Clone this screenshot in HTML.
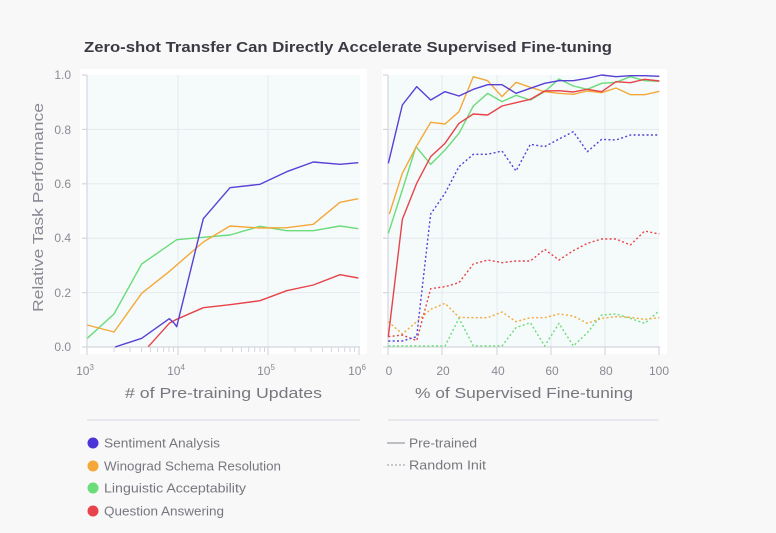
<!DOCTYPE html>
<html><head><meta charset="utf-8"><style>
html,body{margin:0;padding:0;background:#f8f8f8;}
svg{display:block;font-family:"Liberation Sans",sans-serif;}
</style></head><body>
<svg width="776" height="533" viewBox="0 0 776 533" xmlns="http://www.w3.org/2000/svg">
<rect width="776" height="533" fill="#f8f8f8"/>
<text x="84" y="52" font-size="14.5" font-weight="bold" fill="#3a3a44" textLength="528" lengthAdjust="spacingAndGlyphs">Zero-shot Transfer Can Directly Accelerate Supervised Fine-tuning</text>
<rect x="80" y="69" width="287" height="285" fill="#ffffff"/>
<rect x="382" y="69" width="285" height="285" fill="#ffffff"/>
<rect x="87" y="75" width="273" height="272" fill="#f4fbfa"/>
<rect x="388" y="75" width="271" height="272" fill="#f4fbfa"/>
<g stroke="#e6eaee" stroke-width="1">
<line x1="87" y1="129.4" x2="360" y2="129.4"/><line x1="87" y1="183.8" x2="360" y2="183.8"/><line x1="87" y1="238.2" x2="360" y2="238.2"/><line x1="87" y1="292.6" x2="360" y2="292.6"/>
<line x1="178" y1="75" x2="178" y2="347"/><line x1="268" y1="75" x2="268" y2="347"/>
<line x1="388" y1="129.4" x2="659" y2="129.4"/><line x1="388" y1="183.8" x2="659" y2="183.8"/><line x1="388" y1="238.2" x2="659" y2="238.2"/><line x1="388" y1="292.6" x2="659" y2="292.6"/>
<line x1="442" y1="75" x2="442" y2="347"/><line x1="497" y1="75" x2="497" y2="347"/><line x1="551" y1="75" x2="551" y2="347"/><line x1="605" y1="75" x2="605" y2="347"/>
</g>
<g stroke="#d4d6de" stroke-width="1.2">
<line x1="82" y1="347" x2="360" y2="347"/><line x1="383" y1="347" x2="660" y2="347"/>
<line x1="87" y1="75" x2="87" y2="355"/><line x1="178" y1="347" x2="178" y2="355"/><line x1="268" y1="347" x2="268" y2="355"/><line x1="359" y1="347" x2="359" y2="355"/>
<line x1="388" y1="75" x2="388" y2="355"/><line x1="442" y1="347" x2="442" y2="355"/><line x1="497" y1="347" x2="497" y2="355"/><line x1="551" y1="347" x2="551" y2="355"/><line x1="605" y1="347" x2="605" y2="355"/><line x1="659" y1="347" x2="659" y2="355"/>
<line x1="82" y1="75" x2="87" y2="75"/><line x1="82" y1="129.4" x2="87" y2="129.4"/><line x1="82" y1="183.8" x2="87" y2="183.8"/><line x1="82" y1="238.2" x2="87" y2="238.2"/><line x1="82" y1="292.6" x2="87" y2="292.6"/>
<line x1="383" y1="75" x2="388" y2="75"/><line x1="383" y1="129.4" x2="388" y2="129.4"/><line x1="383" y1="183.8" x2="388" y2="183.8"/><line x1="383" y1="238.2" x2="388" y2="238.2"/><line x1="383" y1="292.6" x2="388" y2="292.6"/>
</g>
<g stroke="#d4d6de" stroke-width="1">
<line x1="114" y1="347" x2="114" y2="352"/><line x1="130" y1="347" x2="130" y2="352"/><line x1="141.6" y1="347" x2="141.6" y2="352"/><line x1="150.4" y1="347" x2="150.4" y2="352"/><line x1="157.6" y1="347" x2="157.6" y2="352"/><line x1="163.7" y1="347" x2="163.7" y2="352"/><line x1="168.9" y1="347" x2="168.9" y2="352"/><line x1="173.5" y1="347" x2="173.5" y2="352"/>
<line x1="205" y1="347" x2="205" y2="352"/><line x1="221" y1="347" x2="221" y2="352"/><line x1="232.6" y1="347" x2="232.6" y2="352"/><line x1="241.4" y1="347" x2="241.4" y2="352"/><line x1="248.6" y1="347" x2="248.6" y2="352"/><line x1="254.7" y1="347" x2="254.7" y2="352"/><line x1="259.9" y1="347" x2="259.9" y2="352"/><line x1="264.5" y1="347" x2="264.5" y2="352"/>
<line x1="295" y1="347" x2="295" y2="352"/><line x1="311" y1="347" x2="311" y2="352"/><line x1="322.6" y1="347" x2="322.6" y2="352"/><line x1="331.4" y1="347" x2="331.4" y2="352"/><line x1="338.6" y1="347" x2="338.6" y2="352"/><line x1="344.7" y1="347" x2="344.7" y2="352"/><line x1="349.9" y1="347" x2="349.9" y2="352"/><line x1="354.5" y1="347" x2="354.5" y2="352"/>
</g>
<g font-size="12" fill="#8a8a94" text-anchor="end">
<text x="71" y="79">1.0</text><text x="71" y="134">0.8</text><text x="71" y="188">0.6</text><text x="71" y="242">0.4</text><text x="71" y="297">0.2</text><text x="71" y="351">0.0</text>
</g>
<g font-size="12" fill="#8a8a94" text-anchor="middle">
<text x="85" y="375">10<tspan font-size="8" dy="-5">3</tspan></text>
<text x="176" y="375">10<tspan font-size="8" dy="-5">4</tspan></text>
<text x="266" y="375">10<tspan font-size="8" dy="-5">5</tspan></text>
<text x="357" y="375">10<tspan font-size="8" dy="-5">6</tspan></text>
<text x="389" y="375">0</text><text x="443" y="375">20</text><text x="498" y="375">40</text><text x="552" y="375">60</text><text x="606" y="375">80</text><text x="659" y="375">100</text>
</g>
<text x="125" y="398" font-size="15" fill="#77777f" textLength="197" lengthAdjust="spacingAndGlyphs">&#35; of Pre-training Updates</text>
<text x="415" y="398" font-size="15" fill="#77777f" textLength="218" lengthAdjust="spacingAndGlyphs">% of Supervised Fine-tuning</text>
<text transform="translate(43,312) rotate(-90)" font-size="15" fill="#8a8a94" textLength="209" lengthAdjust="spacingAndGlyphs">Relative Task Performance</text>
<g fill="none" stroke-width="1.4" stroke-linejoin="round">
<polyline stroke="#6cdb7a" points="87.3,338.3 114,314 141.7,264 176.7,239.7 203.3,237.3 230,235 260,226.3 286.7,230.7 313.3,230.7 340,226 358.3,228.7"/>
<polyline stroke="#f5a83a" points="87.3,325 114,332 141.7,293.3 168.3,272.3 203.3,242 230,226 260,228 286.7,227.7 313.3,224.3 340,202.3 358.3,198.7"/>
<polyline stroke="#e8434b" points="148.3,346.7 169.3,323.3 176.7,319.3 203.3,307.7 230,304.7 260,300.7 286.7,290.7 313.3,285 340,274.7 358.3,278"/>
<polyline stroke="#5a3fd6" points="115,347 141.7,338.3 169.3,318.7 174,323 176.7,326.7 203.3,218.7 230,187.7 260,184.3 286.7,171.7 313.3,162 340,164.3 358.3,162.7"/>
</g>
<g transform="translate(380,60) scale(0.33333)" fill="none" stroke-linejoin="round">
<g stroke-width="4.2" stroke-dasharray="6 7">
<polyline stroke="#6cdb7a" points="25,858 195,858 237,775 280,858 366,858 408,803 451,788 494,858 537,790 580,858 622,818 665,765 708,762 751,775 794,790 838,752"/>
<polyline stroke="#f5a83a" points="25,785 67,822 110,785 152,748 195,730 237,772 280,773 323,773 366,756 408,785 451,773 494,773 537,762 580,768 622,790 665,775 708,770 751,772 794,778 838,773"/>
<polyline stroke="#e8434b" points="25,830 67,825 110,842 152,686 195,680 237,668 280,612 323,600 366,608 408,603 451,603 494,568 537,600 580,572 622,550 665,537 708,537 751,555 794,513 838,522"/>
<polyline stroke="#5a3fd6" points="25,843 67,843 110,830 152,462 195,400 237,320 280,283 323,283 366,273 408,333 451,253 494,260 537,237 580,215 622,275 665,238 708,240 751,225 794,225 838,225"/>
</g>
<g stroke-width="4.2">
<polyline stroke="#6cdb7a" points="25,520 67,390 108,260 152,313 195,270 237,220 280,138 323,100 366,125 408,106 451,120 494,95 537,57 580,78 622,88 665,70 708,67 751,50 794,62 838,64"/>
<polyline stroke="#f5a83a" points="28,462 67,340 110,258 152,187 195,192 237,155 280,50 323,62 366,110 408,67 451,82 494,95 537,100 580,103 622,93 665,98 708,84 751,104 794,104 838,94"/>
<polyline stroke="#e8434b" points="25,830 67,478 110,370 152,290 195,250 237,190 280,162 323,165 366,138 408,128 451,118 494,93 537,92 580,96 622,88 665,95 708,65 751,68 794,58 838,63"/>
<polyline stroke="#5a3fd6" points="25,310 67,135 110,80 152,120 195,95 237,108 280,88 323,74 366,74 408,100 451,85 494,70 537,62 580,62 622,55 665,45 708,50 751,47 794,47 838,49"/>
</g>
</g>
<line x1="87" y1="420" x2="360" y2="420" stroke="#dfe0e6" stroke-width="1.2"/>
<line x1="388" y1="420" x2="659" y2="420" stroke="#dfe0e6" stroke-width="1.2"/>
<g font-size="12.5" fill="#77777f">
<circle cx="93" cy="443" r="5.5" fill="#4b35d8"/><text x="104" y="447.5" textLength="116" lengthAdjust="spacingAndGlyphs">Sentiment Analysis</text>
<circle cx="93" cy="466" r="5.5" fill="#f5a83a"/><text x="104" y="470.5" textLength="177" lengthAdjust="spacingAndGlyphs">Winograd Schema Resolution</text>
<circle cx="93" cy="488" r="5.5" fill="#6cdb7a"/><text x="104" y="492.5" textLength="142" lengthAdjust="spacingAndGlyphs">Linguistic Acceptability</text>
<circle cx="93" cy="511" r="5.5" fill="#e8434b"/><text x="104" y="515.5" textLength="120" lengthAdjust="spacingAndGlyphs">Question Answering</text>
<line x1="387" y1="443" x2="405" y2="443" stroke="#aaaab2" stroke-width="1.6"/><text x="409" y="447.5" textLength="68" lengthAdjust="spacingAndGlyphs">Pre-trained</text>
<line x1="387" y1="465" x2="405" y2="465" stroke="#aaaab2" stroke-width="1.2" stroke-dasharray="2 2"/><text x="409" y="469.5" textLength="77" lengthAdjust="spacingAndGlyphs">Random Init</text>
</g>
</svg>
</body></html>
